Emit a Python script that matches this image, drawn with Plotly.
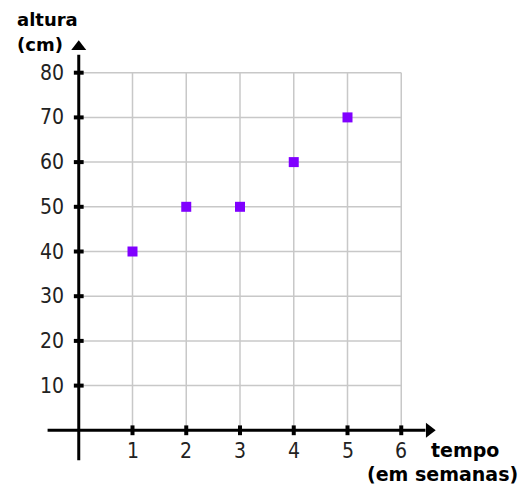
import plotly.graph_objects as go

semanas = [1, 2, 3, 4, 5]
altura_cm = [40, 50, 50, 60, 70]
x_ticks = [1, 2, 3, 4, 5, 6]
y_ticks = [10, 20, 30, 40, 50, 60, 70, 80]
x_title = ["tempo", "(em semanas)"]
y_title = ["altura", "(cm)"]

XMAX, YMAX = 6, 80
fig = go.Figure()

grid = dict(color="#c8c8c8", width=1.5)
for xv in x_ticks:
    fig.add_shape(type="line", x0=xv, x1=xv, y0=0, y1=YMAX, line=grid, layer="below")
for yv in y_ticks:
    fig.add_shape(type="line", x0=0, x1=XMAX, y0=yv, y1=yv, line=grid, layer="below")

# axes lines
fig.add_shape(type="line", x0=-0.58, x1=6.45, y0=0, y1=0, line=dict(color="black", width=3))
fig.add_shape(type="line", x0=0, x1=0, y0=-6.7, y1=84, line=dict(color="black", width=3))

# arrowheads
fig.add_trace(go.Scatter(x=[6.52], y=[0], mode="markers",
                         marker=dict(symbol="triangle-right", size=13, color="black"),
                         hoverinfo="skip", showlegend=False))
fig.add_trace(go.Scatter(x=[0], y=[85.8], mode="markers",
                         marker=dict(symbol="triangle-up", size=13, color="black"),
                         hoverinfo="skip", showlegend=False))

# tick marks
fig.add_trace(go.Scatter(x=x_ticks, y=[0] * len(x_ticks), mode="markers",
                         marker=dict(symbol="line-ns-open", size=7, color="black",
                                     line=dict(width=4, color="black")),
                         hoverinfo="skip", showlegend=False))
fig.add_trace(go.Scatter(x=[0] * len(y_ticks), y=y_ticks, mode="markers",
                         marker=dict(symbol="line-ew-open", size=7, color="black",
                                     line=dict(width=4, color="black")),
                         hoverinfo="skip", showlegend=False))

# data
fig.add_trace(go.Scatter(x=semanas, y=altura_cm, mode="markers",
                         marker=dict(symbol="square", size=10, color="#8000ff",
                                     line=dict(width=0)),
                         showlegend=False))

lfont = dict(family="Liberation Sans Narrow, DejaVu Sans Condensed, Liberation Sans", size=21,
             color="#222222")
for xv in x_ticks:
    fig.add_annotation(x=xv, y=0, text=str(xv), showarrow=False, xanchor="center",
                       yanchor="middle", yshift=-21, font=lfont)
for yv in y_ticks:
    fig.add_annotation(x=0, y=yv, text=str(yv), showarrow=False, xanchor="right",
                       yanchor="middle", xshift=-13, font=lfont)

tfont = dict(family="DejaVu Sans", size=18, color="black")
bfont = dict(family="DejaVu Sans", size=19, color="black")
fig.add_annotation(xref="paper", yref="paper", x=-0.023, y=1.018, xanchor="left", yanchor="middle",
                   text="<b>%s</b>" % y_title[0], showarrow=False, font=tfont)
fig.add_annotation(xref="paper", yref="paper", x=-0.023, y=0.962, xanchor="left", yanchor="middle",
                   text="<b>%s</b>" % y_title[1], showarrow=False, font=tfont)
fig.add_annotation(xref="paper", yref="paper", x=0.94, y=0.057, xanchor="left", yanchor="middle",
                   text="<b>%s</b>" % x_title[0], showarrow=False, font=bfont)
fig.add_annotation(xref="paper", yref="paper", x=1.152, y=0.002, xanchor="right", yanchor="middle",
                   text="<b>%s</b>" % x_title[1], showarrow=False, font=bfont)

fig.update_xaxes(range=[-1, 7], visible=False)
fig.update_yaxes(range=[-10, 90], visible=False)
fig.update_layout(width=526, height=486, margin=dict(l=17, r=79, t=20, b=19),
                  plot_bgcolor="white", paper_bgcolor="white")
fig.write_html("out.html")
